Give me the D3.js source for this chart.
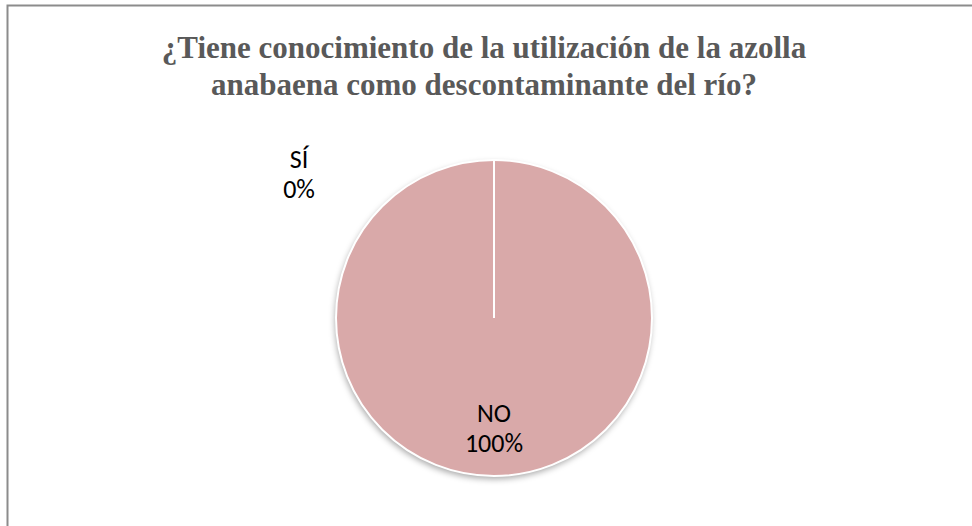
<!DOCTYPE html>
<html>
<head>
<meta charset="utf-8">
<script src="https://cdn.jsdelivr.net/npm/d3@7"></script>
<style>
  body { margin: 0; background: #fff; }
  svg { display: block; }
</style>
</head>
<body>
<svg></svg>
<script>
const titleLines = ["¿Tiene conocimiento de la utilización de la azolla", "anabaena como descontaminante del río?"];
const categories = ["SÍ", "NO"];
const values = [0, 100];

const W = 972, H = 526;
const svg = d3.select("svg").attr("width", W).attr("height", H);

// marco del gráfico
svg.append("rect")
  .attr("x", 7.5).attr("y", 5.5)
  .attr("width", W).attr("height", H)
  .attr("fill", "#fff")
  .attr("stroke", "#8c8c8c").attr("stroke-width", 2);

svg.append("text")
  .attr("text-anchor", "middle")
  .style("font-family", "'Liberation Serif', 'Times New Roman', serif")
  .style("font-weight", "bold")
  .style("font-size", "31px")
  .attr("fill", "#595959")
  .selectAll("tspan")
  .data(titleLines)
  .join("tspan")
  .attr("x", 484)
  .attr("y", (d, i) => 58 + i * 37)
  .text(d => d);

const cx = 494, cy = 318, r = 158;

const defs = svg.append("defs");
const f = defs.append("filter").attr("id", "shadow")
  .attr("x", "-20%").attr("y", "-20%").attr("width", "140%").attr("height", "140%");
f.append("feDropShadow")
  .attr("dx", -1).attr("dy", 3).attr("stdDeviation", 3)
  .attr("flood-color", "#000").attr("flood-opacity", 0.35);

const pie = d3.pie().sort(null).value(d => d)(values);
const arc = d3.arc().innerRadius(0).outerRadius(r);

const g = svg.append("g").attr("transform", `translate(${cx},${cy})`);

g.append("circle").attr("r", r).attr("fill", "#d9a9a9").attr("filter", "url(#shadow)");

g.selectAll("path.slice")
  .data(pie)
  .join("path")
  .attr("class", "slice")
  .attr("d", arc)
  .attr("fill", "#d9a9a9")
  .attr("stroke", "#fff")
  .attr("stroke-width", 2);

// línea del sector de 0%
g.append("line")
  .attr("x1", 0).attr("y1", 0)
  .attr("x2", 0).attr("y2", -r)
  .attr("stroke", "#fff").attr("stroke-width", 2);

const labelPos = [[299 - cx, 168 - cy], [0, 422 - cy]];
const labels = g.selectAll("text.lbl")
  .data(pie)
  .join("text")
  .attr("class", "lbl")
  .attr("text-anchor", "middle")
  .style("font-family", "Carlito, 'Open Sans', 'Noto Sans', sans-serif")
  .style("font-size", "26px")
  .attr("fill", "#000")
  .attr("transform", (d, i) => `translate(${labelPos[i][0]},${labelPos[i][1]})`);

labels.append("tspan").attr("x", 0).attr("y", 0).text((d, i) => categories[i]);
labels.append("tspan").attr("x", 0).attr("y", 30).text(d => Math.round(d.value) + "%");
</script>
</body>
</html>
